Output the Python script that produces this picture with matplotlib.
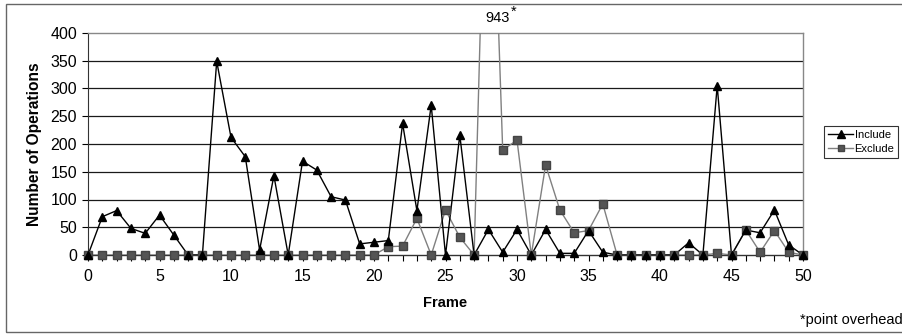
import numpy as np
import matplotlib
matplotlib.use("Agg")
from matplotlib import pyplot as plt
from matplotlib.patches import Rectangle

plt.rcParams['font.family'] = ['Liberation Sans', 'DejaVu Sans']

frames = list(range(51))
include = [0, 69, 80, 48, 39, 72, 36, 0, 0, 349, 212, 177, 9, 143, 0, 169, 153, 105, 99, 20,
           23, 26, 237, 80, 270, 0, 216, 0, 46, 5, 46, 0, 46, 3, 3, 44, 5, 0, 0, 0,
           0, 0, 22, 0, 305, 0, 45, 40, 81, 18, 0]
exclude = [0, 0, 0, 0, 0, 0, 0, 0, 0, 0, 0, 0, 0, 0, 0, 0, 0, 0, 0, 0,
           0, 15, 16, 66, 0, 81, 32, 0, 943, 189, 207, 0, 162, 81, 40, 44, 92, 0, 0, 0,
           0, 0, 0, 0, 3, 0, 45, 5, 44, 5, 0]
series_names = ['Include', 'Exclude']
x_ticks = [0, 5, 10, 15, 20, 25, 30, 35, 40, 45, 50]
y_ticks = [0, 50, 100, 150, 200, 250, 300, 350, 400]

fig = plt.figure(figsize=(9.02, 3.36), dpi=100)
ax = fig.add_axes([88/902, 1-255/336, (803-88)/902, (255-33)/336])

# gridlines
for yv in y_ticks[1:-1]:
    ax.axhline(yv, color='#1a1a1a', lw=0.9, zorder=1)

exc_col = '#808080'
inc_col = 'black'
# lines (clipped to plot area)
ax.plot(frames, exclude, color=exc_col, lw=1.0, zorder=3)
ax.plot(frames, include, color=inc_col, lw=1.0, zorder=4)
# markers, not clipped at the zero line
ex = np.array(exclude, dtype=float)
ex_m = np.where(ex > 400, np.nan, ex)
ax.plot(frames, ex_m, ls='none', marker='s', ms=5.2, color='#555555', mec='#444444',
        clip_on=False, zorder=5)
ax.plot(frames, include, ls='none', marker='^', ms=6, color='black', clip_on=False, zorder=6)

ax.set_xlim(0, 50)
ax.set_ylim(0, 400)
ax.set_xticks(frames, minor=True)
ax.set_xticks(x_ticks)
ax.set_yticks(y_ticks)
ax.tick_params(axis='both', which='both', direction='out', length=4, width=0.8,
               labelsize=11.5, colors='black')
ax.tick_params(axis='x', which='major', pad=6)
ax.tick_params(axis='y', pad=4)
for s in ['top', 'right']:
    ax.spines[s].set_color('#888888')
    ax.spines[s].set_linewidth(1.0)
ax.spines['left'].set_color('#333333')
ax.spines['bottom'].set_color('#333333')
ax.spines['bottom'].set_linewidth(1.0)

ax.set_xlabel('Frame', fontsize=10.5, fontweight='bold', labelpad=9)
ax.set_ylabel('Number of Operations', fontsize=11.2, fontweight='bold', labelpad=6)

# legend
h1, = ax.plot([], [], color='black', lw=1.0, marker='^', ms=6)
h2, = ax.plot([], [], color='#808080', lw=1.0, marker='s', ms=5, mfc='#555555', mec='#444444')
leg = fig.legend([h1, h2], series_names, loc='upper left',
                 bbox_to_anchor=(824/902, 1-126/336), fontsize=8,
                 frameon=True, fancybox=False, handlelength=2.3, handletextpad=0.1,
                 borderpad=0.35, labelspacing=0.4, borderaxespad=0)
leg.get_frame().set_edgecolor('black')
leg.get_frame().set_linewidth(0.8)

# off-scale value label
fig.text(498/902, 1-18/336, '943', fontsize=10.5, ha='center', va='center')
fig.text(514/902, 1-12/336, '*', fontsize=10.5, ha='center', va='center')
fig.text(800/902, 1-320/336, '*point overhead', fontsize=10.5, ha='left', va='center')

# outer frame of the figure
fig.patches.append(Rectangle((6/902, 4/336), 1.0, 1-8/336, transform=fig.transFigure,
                             fill=False, edgecolor='#666666', lw=1.0, figure=fig))

fig.savefig('out.png', dpi=100)
